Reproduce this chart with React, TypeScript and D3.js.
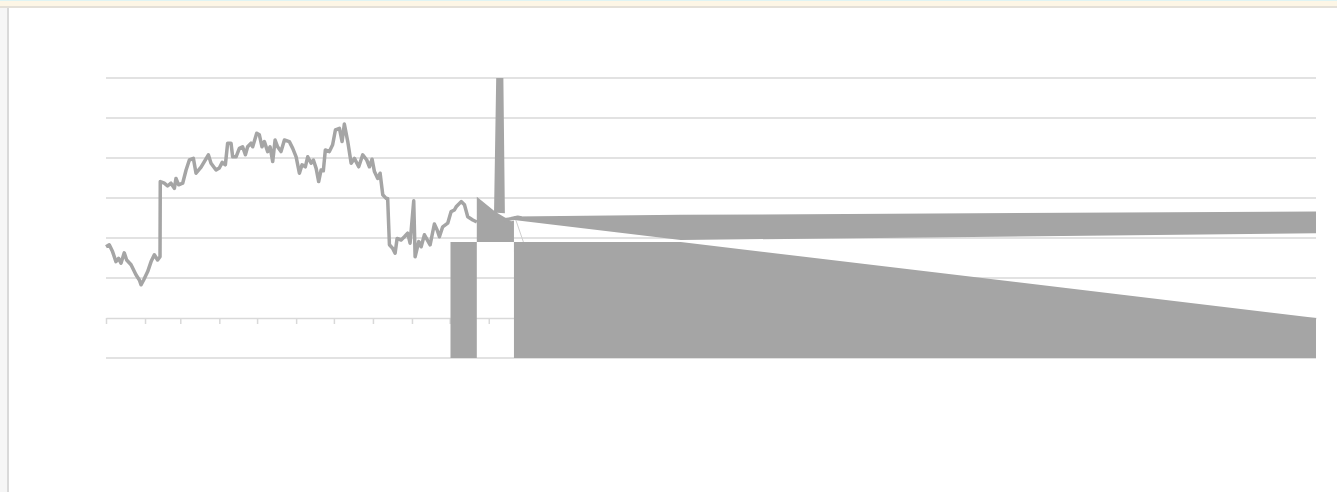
import React, { useRef, useEffect } from "react"
import * as d3 from "d3"

const startDate = new Date(Date.UTC(2021, 0, 1))
const totalDays = 961

// main line series: day offset from Jan 1 and value
const priceDays = [
  0, 2.6, 5.2, 7.9, 10, 11.9, 14.5, 16.4, 19.9, 23.8, 26.5, 27.8, 29.9, 33.1, 35.8, 38.4, 41, 42.9,
  43.1, 46.3, 48.9, 51.6, 54.3, 55.6, 57.7, 60.9, 63.6, 66.2, 69.4, 71.5, 75.5, 78.1, 81.3, 83.4,
  87.4, 90, 92.3, 94.8, 96.6, 99.3, 100.6, 103.3, 105.9, 108.5, 110.7, 112.5, 115.2, 116.5, 119.7,
  121.8, 123.9, 125.8, 128.4, 130.3, 132.4, 134.3, 136.3, 139, 141.7, 145.6, 148.3, 151, 153.6,
  155.7, 158.3, 160.2, 162.9, 164.7, 166.9, 168.9, 170.8, 172.6, 174.2, 177.4, 180, 182.2, 185.4,
  187.5, 189.3, 192, 194.7, 197.3, 200.7, 203.9, 207.1, 209.2, 211.3, 213.2, 215.8, 217.7, 219.8,
  222.5, 223.7, 225.1, 227.7, 229.6, 231.2, 234.4, 237, 239.6, 241.5, 244.4, 245.5, 248.4, 250.3,
  252.9, 257.4, 260.8, 263, 264.8, 267.4, 271.4, 274.1, 276.7, 278.1, 282.1, 284.7, 287.3, 291.3, 294.5
]
const priceValues = [
  1.78, 1.83, 1.66, 1.41, 1.49, 1.37, 1.63, 1.45, 1.33, 1.08, 0.95, 0.83, 0.95, 1.16, 1.41, 1.58, 1.45, 1.53,
  3.41, 3.37, 3.30, 3.37, 3.24, 3.49, 3.33, 3.37, 3.70, 3.95, 3.99, 3.62, 3.77, 3.91, 4.08, 3.87,
  3.70, 3.75, 3.89, 3.83, 4.37, 4.37, 4.03, 4.03, 4.24, 4.28, 4.08, 4.28, 4.37, 4.28, 4.62,
  4.58, 4.28, 4.41, 4.16, 4.28, 3.91, 4.45, 4.28, 4.16, 4.45, 4.41, 4.24, 4.03, 3.62,
  3.83, 3.78, 4.03, 3.87, 3.95, 3.74, 3.41, 3.70, 3.68, 4.20, 4.16, 4.33, 4.70, 4.74,
  4.41, 4.85, 4.41, 3.87, 3.99, 3.78, 4.08, 3.95, 3.78, 3.97, 3.66, 3.49, 3.62, 3.08,
  2.99, 2.99, 1.83, 1.74, 1.62, 1.99, 1.95, 2.03, 2.12, 1.87, 2.93, 1.53, 1.91, 1.78,
  2.08, 1.83, 2.35, 2.20, 2.03, 2.28, 2.37, 2.66, 2.70, 2.78, 2.91, 2.83, 2.53, 2.45, 2.40
]

// short tail of the series after the spike
const tailDays = [315.5, 321.5, 327, 330]
const tailValues = [2.45, 2.48, 2.52, 2.5]

// left block
const barDays = [273.6, 294.5]
const barValues = [1.9, 1.9]

// spike block
const spikeDays = [294.5, 294.5, 308.2, 309.9, 315.6, 316.8, 310.5, 321.7, 324, 324]
const spikeValues = [1.9, 3.03, 2.68, 6, 6, 2.62, 2.63, 2.42, 2.44, 1.9]

// wide band to the right
const bandDays = [324, 456.5, 961]
const bandHigh = [2.54, 2.58, 2.66]
const bandLow = [2.45, 1.95, 2.12]

// lower block to the right
const floorDays = [324, 456.5, 961]
const floorValues = [1.9, 1.9, 0]

const gridValues = [-1, 1, 2, 3, 4, 5, 6]

const dayToDate = (d: number) => new Date(startDate.getTime() + d * 864e5)

const Chart = () => {
  const element = useRef<SVGSVGElement | null>(null)

  useEffect(() => {
    const svg = d3.select(element.current)
    svg.selectAll("*").remove()

    const grey = "#a5a5a5"
    const gridColor = "#d9d9d9"

    // window frame
    svg.append("rect").attr("x", 0).attr("y", 0).attr("width", 1337).attr("height", 1).attr("fill", "#dff4f4")
    svg.append("rect").attr("x", 0).attr("y", 1).attr("width", 1337).attr("height", 5).attr("fill", "#fdf6e6")
    svg.append("rect").attr("x", 0).attr("y", 6).attr("width", 1337).attr("height", 2).attr("fill", "#e4e0d8")
    svg.append("rect").attr("x", 0).attr("y", 8).attr("width", 7).attr("height", 484).attr("fill", "#f6f6f6")
    svg.append("rect").attr("x", 7).attr("y", 8).attr("width", 2).attr("height", 484).attr("fill", "#d9d9d9")

    const x = d3.scaleUtc()
      .domain([startDate, dayToDate(totalDays)])
      .range([106, 1316])

    const y = d3.scaleLinear()
      .domain([-1, 6])
      .range([358, 78])

    const g = svg.append("g")

    g.selectAll(".grid")
      .data(gridValues)
      .enter()
        .append("line")
        .attr("x1", 106)
        .attr("x2", 1316)
        .attr("y1", d => y(d))
        .attr("y2", d => y(d))
        .attr("stroke", gridColor)
        .attr("stroke-width", 1.6)

    const months = d3.utcMonth.range(startDate, dayToDate(totalDays + 1))
    const axis = g.append("g")
      .attr("transform", "translate(0," + y(0) + ")")
      .call(
        d3.axisBottom(x)
          .tickValues(months)
          .tickSize(6)
          .tickSizeOuter(0)
          .tickFormat(() => "")
      )
    axis.select(".domain").attr("stroke", gridColor).attr("stroke-width", 1.6)
    axis.selectAll(".tick line").attr("stroke", gridColor).attr("stroke-width", 1.5)

    const area = d3.area<[number, number]>()
      .x(d => x(dayToDate(d[0])))
      .y0(y(-1))
      .y1(d => y(d[1]))

    g.append("path")
      .datum(barDays.map((d, i) => [d, barValues[i]] as [number, number]))
      .attr("d", area)
      .attr("fill", grey)

    g.append("path")
      .datum(floorDays.map((d, i) => [d, floorValues[i]] as [number, number]))
      .attr("d", area)
      .attr("fill", grey)

    const band = d3.area<number>()
      .x(d => x(dayToDate(bandDays[d])))
      .y0(d => y(bandLow[d]))
      .y1(d => y(bandHigh[d]))

    g.append("path")
      .datum(bandDays.map((d, i) => i))
      .attr("d", band)
      .attr("fill", grey)

    const poly = d3.line<[number, number]>()
      .x(d => x(dayToDate(d[0])))
      .y(d => y(d[1]))
      .curve(d3.curveLinearClosed)

    g.append("path")
      .datum(spikeDays.map((d, i) => [d, spikeValues[i]] as [number, number]))
      .attr("d", poly)
      .attr("fill", grey)

    // faint leader
    g.append("line")
      .attr("x1", x(dayToDate(325.5)))
      .attr("y1", y(2.45))
      .attr("x2", x(dayToDate(331.5)))
      .attr("y2", y(1.9))
      .attr("stroke", "#cfcfcf")
      .attr("stroke-width", 1)

    const line = d3.line<[number, number]>()
      .x(d => x(dayToDate(d[0])))
      .y(d => y(d[1]))

    g.append("path")
      .datum(priceDays.map((d, i) => [d, priceValues[i]] as [number, number]))
      .attr("d", line)
      .attr("fill", "none")
      .attr("stroke", grey)
      .attr("stroke-width", 3.5)
      .attr("stroke-linejoin", "round")

    g.append("path")
      .datum(tailDays.map((d, i) => [d, tailValues[i]] as [number, number]))
      .attr("d", line)
      .attr("fill", "none")
      .attr("stroke", grey)
      .attr("stroke-width", 3.5)
      .attr("stroke-linejoin", "round")

    return () => {
      svg.selectAll("*").remove()
    }
  }, [])

  return (
    <svg
      ref={element}
      width={1337}
      height={492}
      style={{ position: "absolute", left: 0, top: 0, background: "#ffffff" }}
    />
  )
}

export default function App() {
  return <Chart />
}
